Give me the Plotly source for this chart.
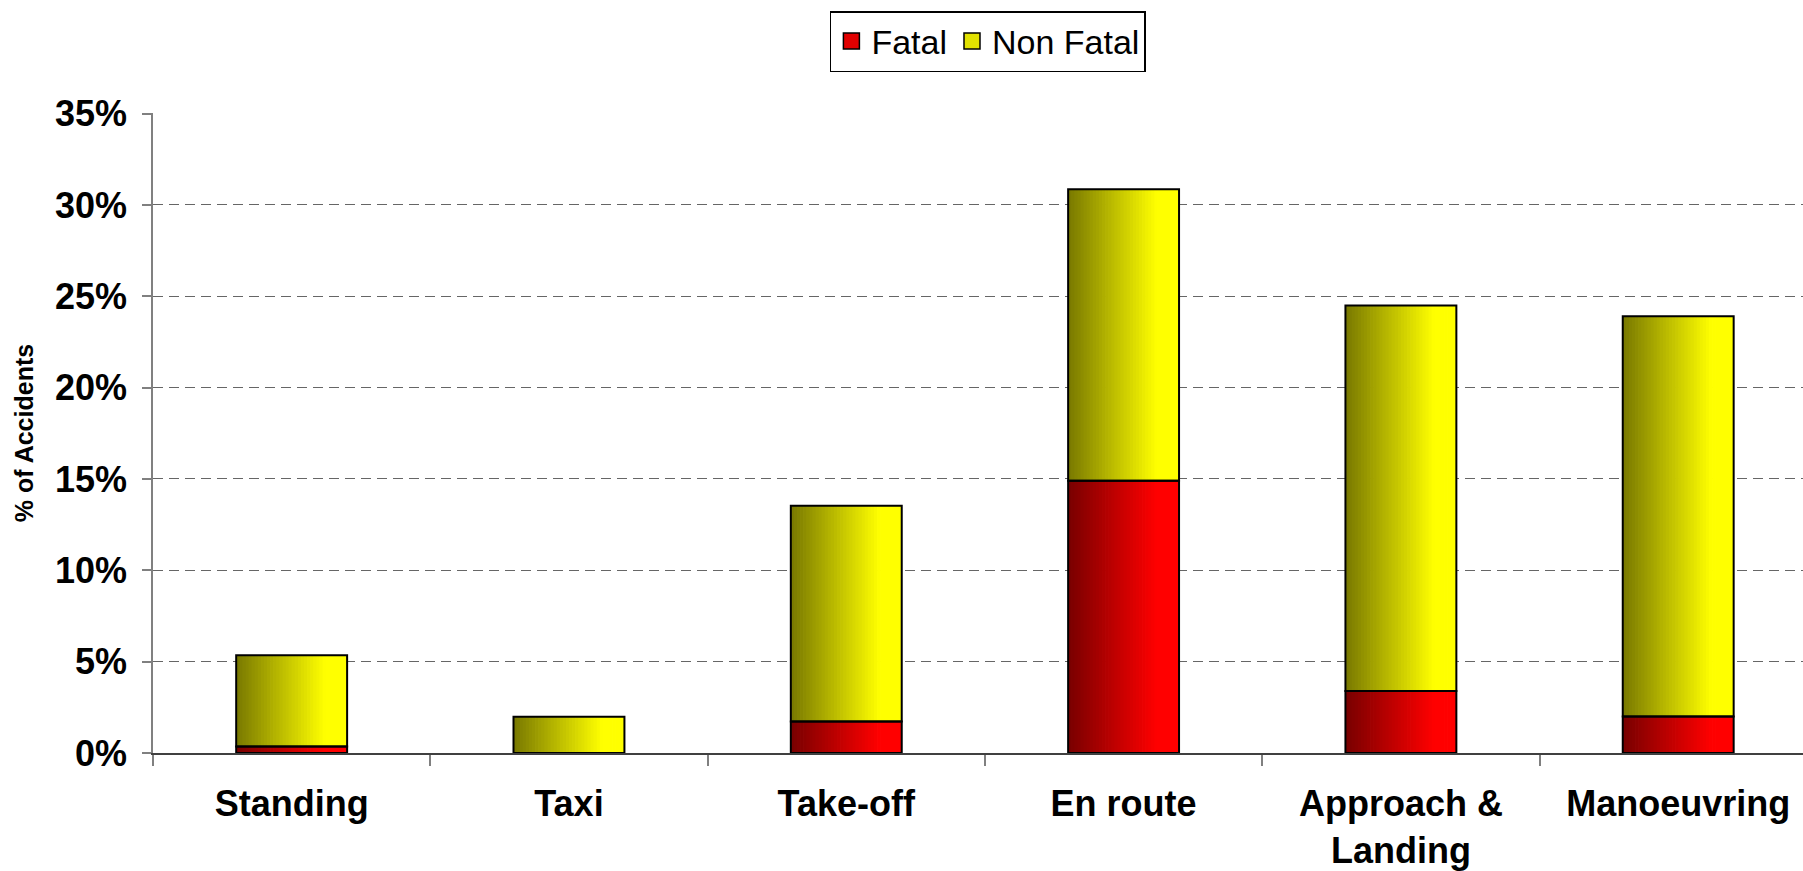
import plotly.graph_objects as go

categories = ["Standing", "Taxi", "Take-off", "En route", "Approach &<br>Landing", "Manoeuvring"]
fatal = [0.36, 0.0, 1.73, 14.9, 3.4, 2.0]
non_fatal = [4.99, 1.99, 11.8, 15.96, 21.1, 21.9]
y_ticks = [0, 5, 10, 15, 20, 25, 30, 35]
y_tick_labels = [f"{v}%" for v in y_ticks]

FONT = "Arial, Liberation Sans, sans-serif"
BAR_W = 0.40
N = 36

def grad(base_rgb, t):
    # dark (about 47%) on the left to full colour at ~80% of the width
    k = min(1.0, 0.47 + 0.53 * t / 0.8)
    return "rgb(%d,%d,%d)" % tuple(int(round(c * k)) for c in base_rgb)

fig = go.Figure()
strip = BAR_W / N
nf_base = fatal
for series, base, rgb in ((fatal, None, (255, 0, 0)), (non_fatal, nf_base, (255, 255, 0))):
    for i in range(N):
        t = (i + 0.5) / N
        w = strip * (1.0 if i == N - 1 else 1.25)
        fig.add_trace(go.Bar(
            x=categories, y=series, base=base,
            width=w, offset=-BAR_W / 2 + i * strip,
            marker=dict(color=grad(rgb, t), line=dict(width=0)),
            showlegend=False, hoverinfo="skip"))

# outlines
fig.add_trace(go.Bar(x=categories, y=[v if v > 0 else None for v in fatal],
                     width=BAR_W, offset=-BAR_W / 2,
                     marker=dict(color="rgba(0,0,0,0)", line=dict(color="black", width=2)),
                     showlegend=False, name="Fatal"))
fig.add_trace(go.Bar(x=categories, y=non_fatal, base=nf_base,
                     width=BAR_W, offset=-BAR_W / 2,
                     marker=dict(color="rgba(0,0,0,0)", line=dict(color="black", width=2)),
                     showlegend=False, name="Non Fatal"))

# legend entries
fig.add_trace(go.Scatter(x=[None], y=[None], mode="markers", name="Fatal",
                         marker=dict(symbol="square", size=16, color="rgb(225,0,0)",
                                     line=dict(color="black", width=1.5))))
fig.add_trace(go.Scatter(x=[None], y=[None], mode="markers", name="Non Fatal",
                         marker=dict(symbol="square", size=16, color="rgb(225,225,0)",
                                     line=dict(color="black", width=1.5))))

fig.update_layout(
    width=1803, height=871,
    margin=dict(l=153, r=0, t=113, b=118),
    paper_bgcolor="white", plot_bgcolor="white",
    barmode="overlay",
    font=dict(family=FONT, color="black"),
    legend=dict(orientation="h", x=0.506, xanchor="center",
                yref="container", y=1 - 11 / 871, yanchor="top",
                bordercolor="black", borderwidth=1.5, bgcolor="white",
                font=dict(size=34, family=FONT), itemsizing="trace",
                tracegroupgap=0),
    xaxis=dict(
        type="category", range=[-0.5, 5.45],
        showline=True, linecolor="#404040", linewidth=1.5,
        ticks="outside", tickson="boundaries", ticklen=11, tickcolor="#808080", tickwidth=1.5,
        tickfont=dict(size=36, family=FONT, weight="bold"),
        ticklabelstandoff=18,
        showgrid=False, zeroline=False, fixedrange=True),
    yaxis=dict(
        range=[0, 35.03], tickvals=y_ticks, ticktext=y_tick_labels,
        showline=True, linecolor="#808080", linewidth=1.5,
        ticks="outside", ticklen=9, tickcolor="#808080", tickwidth=1.5,
        tickfont=dict(size=36, family=FONT, weight="bold"),
        ticklabelstandoff=8,
        showgrid=True, gridcolor="#666666", gridwidth=1, griddash="10px,6px",
        zeroline=False, fixedrange=True,
        title=dict(text="% of Accidents", font=dict(size=25, family=FONT, weight="bold"),
                   standoff=14)),
)

fig.write_html("out.html", config={"displayModeBar": False},
               post_script="document.body.style.margin='0px';document.body.style.overflow='hidden';")
